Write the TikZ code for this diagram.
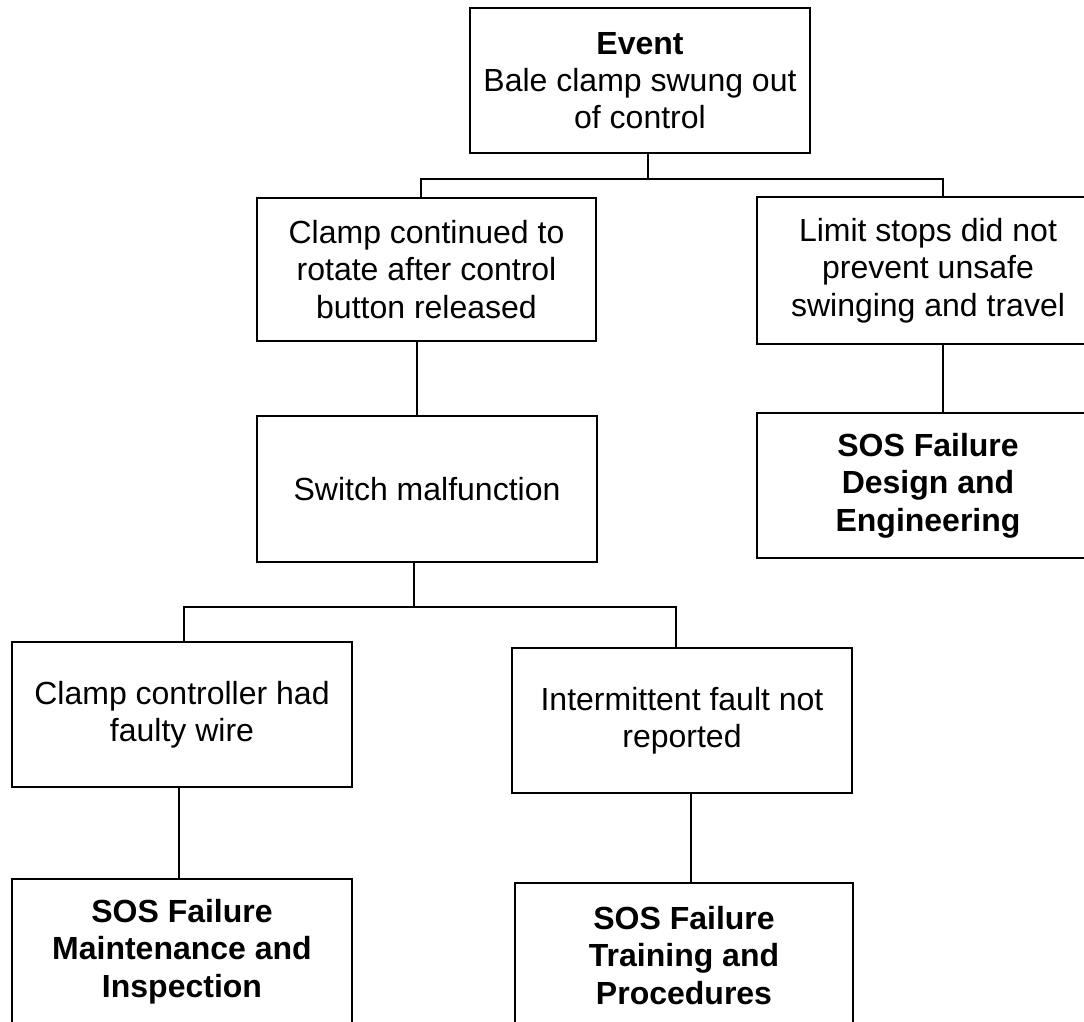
\documentclass[tikz,border=0pt]{standalone}
\usepackage{fontspec}
\setmainfont{Liberation Sans}
\begin{document}
\begin{tikzpicture}[x=0.75pt,y=-0.75pt,
  box/.style={draw, line width=1.9pt, rectangle, align=center, inner sep=0pt,
    font=\fontsize{24}{28}\selectfont, minimum width=255pt, minimum height=108.75pt},
  conn/.style={line width=1.8pt}]
\fill[white] (0,0) rectangle (1084,1021);
\useasboundingbox (0,0) rectangle (1084,1021);

\node[box] (ev) at (640,80.5) {\textbf{Event}\\Bale clamp swung out\\of control};
\node[box, minimum width=254.25pt, minimum height=107.25pt] (c1) at (426.5,269.5) {Clamp continued to\\rotate after control\\button released};
\node[box, minimum width=256.5pt, minimum height=110.25pt] (l1) at (928,270.5) {Limit stops did not\\prevent unsafe\\swinging and travel};
\node[box, minimum width=256.5pt] (sd) at (928,485.5) {\textbf{SOS Failure}\\\textbf{Design and}\\\textbf{Engineering}};
\node[box, minimum height=109.5pt] (sw) at (427,489) {Switch malfunction};
\node[box] (cc) at (182,714.5) {Clamp controller had\\faulty wire};
\node[box] (in) at (682,720.5) {Intermittent fault not\\reported};
\node[box] (sm) at (182,951.5) {\textbf{SOS Failure}\\\textbf{Maintenance and}\\\textbf{Inspection}};
\node[box, minimum width=253.5pt] (st) at (684,955.5) {\textbf{SOS Failure}\\\textbf{Training and}\\\textbf{Procedures}};

\coordinate (j1) at (648,179);
\coordinate (b1l) at (421,179);
\coordinate (b1r) at (943,179);
\coordinate (v1) at (417,380);
\coordinate (j2) at (414,607);
\coordinate (b2l) at (184,607);
\coordinate (b2r) at (676,607);
\coordinate (v2) at (179,830);
\coordinate (v3) at (691,835);

\draw[conn] (ev.south -| j1) -- (j1);
\draw[conn] (c1.north -| b1l) -- (b1l) -- (b1r) -- (l1.north -| b1r);
\draw[conn] (c1.south -| v1) -- (sw.north -| v1);
\draw[conn] (l1.south -| b1r) -- (sd.north -| b1r);
\draw[conn] (sw.south -| j2) -- (j2);
\draw[conn] (cc.north -| b2l) -- (b2l) -- (b2r) -- (in.north -| b2r);
\draw[conn] (cc.south -| v2) -- (sm.north -| v2);
\draw[conn] (in.south -| v3) -- (st.north -| v3);
\end{tikzpicture}
\end{document}
